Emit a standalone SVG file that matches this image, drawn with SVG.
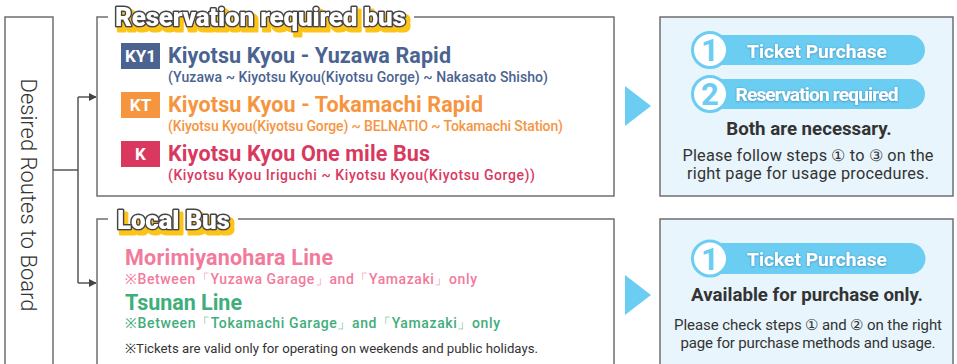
<svg xmlns="http://www.w3.org/2000/svg" width="957" height="364" viewBox="0 0 957 364">
<defs>
<style>
text{font-family:Roboto,"Liberation Sans",sans-serif}
.frame{fill:#fff;stroke:#6f6f6f;stroke-width:1.5}
.info{fill:#e8f5fc;stroke:#6f6f6f;stroke-width:1.5}
.conn{fill:none;stroke:#555;stroke-width:1.5}
.ttl{font-size:26px;font-weight:900;letter-spacing:-0.2px;fill:#fff;stroke:#444;stroke-width:3;stroke-linejoin:round;paint-order:stroke}
.badge-t{font-size:17px;font-weight:700;fill:#fff;text-anchor:middle}
.rt{font-size:21.5px;font-weight:700}
.rs{font-size:14px;font-weight:500}
.pill{fill:#6ccdf3}
.ring{fill:#fff;stroke:#6ccdf3;stroke-width:3}
.num{font-size:31px;font-weight:700;fill:#6ccdf3;text-anchor:middle}
.pt{font-size:19.2px;font-weight:700;fill:#fff;text-anchor:middle}
.bold{font-size:18.7px;font-weight:700;fill:#333;text-anchor:middle}
.note1{font-size:16.3px;fill:#333;text-anchor:middle}
.note2{font-size:15px;fill:#333;text-anchor:middle}
.tri{fill:#6ccdf3}
</style>
<filter id="ys" x="-5%" y="-20%" width="115%" height="160%">
<feMorphology in="SourceAlpha" operator="dilate" radius="1" result="d"/>
<feOffset in="d" dx="3" dy="4" result="o"/>
<feFlood flood-color="#fcc419"/>
<feComposite in2="o" operator="in" result="y"/>
<feMerge><feMergeNode in="y"/><feMergeNode in="SourceGraphic"/></feMerge>
</filter>
<filter id="ts" x="-10%" y="-30%" width="120%" height="160%">
<feDropShadow dx="0" dy="0.5" stdDeviation="1.2" flood-color="#1a6e96" flood-opacity="0.7"/>
</filter>
<marker id="ah" viewBox="0 0 10 10" refX="9" refY="5" markerWidth="8" markerHeight="8" markerUnits="userSpaceOnUse" orient="auto">
<path d="M0,0 L10,5 L0,10 z" fill="#444"/>
</marker>
</defs>

<g id="desired-routes">
<rect x="5" y="17" width="48" height="360" class="frame"/>
<text transform="translate(21,195) rotate(90)" text-anchor="middle" font-size="22" font-weight="300" fill="#333">Desired Routes to Board</text>
</g>

<g id="connectors">
<path class="conn" d="M53,170 H78"/>
<path class="conn" d="M78,97 V283"/>
<path class="conn" d="M78,97 H96" marker-end="url(#ah)"/>
<path class="conn" d="M78,283 H96" marker-end="url(#ah)"/>
</g>

<g id="reservation-bus">
<rect x="97" y="17" width="517" height="179" class="frame"/>
<rect x="108" y="8" width="306" height="18" fill="#fff"/>
<text x="115" y="26" class="ttl" filter="url(#ys)">Reservation required bus</text>

<rect x="121" y="43" width="39" height="26" fill="#4a6391"/>
<text x="140.5" y="62" class="badge-t">KY1</text>
<text x="168" y="63" class="rt" fill="#4a6391" textLength="283">Kiyotsu Kyou - Yuzawa Rapid</text>
<text x="168" y="82" class="rs" fill="#4a6391" textLength="380">(Yuzawa ~ Kiyotsu Kyou(Kiyotsu Gorge) ~ Nakasato Shisho)</text>

<rect x="121" y="92" width="39" height="26" fill="#f6953f"/>
<text x="140.5" y="111" class="badge-t">KT</text>
<text x="168" y="112" class="rt" fill="#f6953f" textLength="315">Kiyotsu Kyou - Tokamachi Rapid</text>
<text x="168" y="131" class="rs" fill="#f6953f" textLength="395">(Kiyotsu Kyou(Kiyotsu Gorge) ~ BELNATIO ~ Tokamachi Station)</text>

<rect x="121" y="141" width="39" height="26" fill="#d9395f"/>
<text x="140.5" y="160" class="badge-t">K</text>
<text x="168" y="161" class="rt" fill="#d9395f" textLength="262">Kiyotsu Kyou One mile Bus</text>
<text x="168" y="180" class="rs" fill="#d9395f" textLength="367">(Kiyotsu Kyou Iriguchi ~ Kiyotsu Kyou(Kiyotsu Gorge))</text>
</g>

<g id="local-bus">
<rect x="97" y="219" width="517" height="160" class="frame"/>
<rect x="108" y="210" width="130" height="18" fill="#fff"/>
<text x="117" y="229" class="ttl" filter="url(#ys)">Local Bus</text>

<text x="125" y="265" class="rt" fill="#f27a9c" textLength="208">Morimiyanohara Line</text>
<text x="125" y="284" class="rs" fill="#f27a9c" textLength="352">※Between「Yuzawa Garage」and「Yamazaki」only</text>
<text x="125" y="310" class="rt" fill="#3fae7c" textLength="117">Tsunan Line</text>
<text x="125" y="328" class="rs" fill="#3fae7c" textLength="375">※Between「Tokamachi Garage」and「Yamazaki」only</text>
<text x="125" y="353" font-size="13.2" fill="#333" textLength="413">※Tickets are valid only for operating on weekends and public holidays.</text>
</g>

<g id="arrow-top"><path class="tri" d="M625,86 L651,106 L625,126 z"/></g>
<g id="arrow-bottom"><path class="tri" d="M625,275 L651,295 L625,315 z"/></g>

<g id="reservation-info">
<rect x="660" y="17" width="293" height="179" class="info"/>
<path class="pill" d="M710,35 H910 A15,15 0 0 1 910,65 H710 z"/>
<circle cx="710" cy="50" r="17.5" class="ring"/>
<text x="710" y="61" class="num">1</text>
<text x="817" y="58" class="pt" filter="url(#ts)">Ticket Purchase</text>
<path class="pill" d="M710,79 H910 A15,15 0 0 1 910,109 H710 z"/>
<circle cx="710" cy="94" r="17.5" class="ring"/>
<text x="710" y="105" class="num">2</text>
<text x="817" y="101" class="pt" filter="url(#ts)" textLength="163">Reservation required</text>
<text x="809" y="135" class="bold">Both are necessary.</text>
<text x="808" y="161" class="note1" textLength="251">Please follow steps ① to ③ on the</text>
<text x="808" y="179" class="note1" textLength="242">right page for usage procedures.</text>
</g>

<g id="local-info">
<rect x="660" y="219" width="293" height="160" class="info"/>
<path class="pill" d="M710,243 H910 A15,15 0 0 1 910,274 H710 z"/>
<circle cx="710" cy="258.5" r="17.5" class="ring"/>
<text x="710" y="269.5" class="num">1</text>
<text x="817" y="266" class="pt" filter="url(#ts)">Ticket Purchase</text>
<text x="807" y="301" class="bold">Available for purchase only.</text>
<text x="808" y="330" class="note2" textLength="268">Please check steps ① and ② on the right</text>
<text x="808" y="348" class="note2" textLength="255">page for purchase methods and usage.</text>
</g>
</svg>
